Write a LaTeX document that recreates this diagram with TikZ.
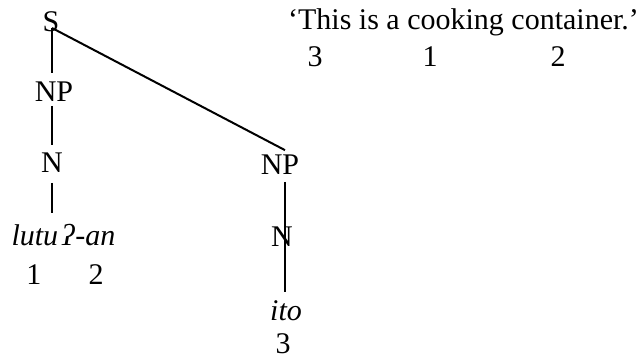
\documentclass[tikz,border=0pt]{standalone}
\usepackage{fontspec}
\setmainfont{Liberation Serif}
\begin{document}
\begin{tikzpicture}[x=1pt,y=-1pt,
  lbl/.style={inner sep=0pt,anchor=base,font=\fontsize{30}{36}\selectfont},
  br/.style={line width=2pt}]
\useasboundingbox (0,0) rectangle (643,358);
% left column
\node[lbl] (S) at (51,32) {S};
\node[lbl] (NPa) at (54,102) {NP};
\node[lbl] (Na) at (52,173) {N};
\node[lbl] (lutu) at (63.5,246) {\itshape lutu\kern4pt ʔ\kern1pt-an};
\node[lbl] (one) at (34,284) {1};
\node[lbl] (two) at (96,284) {2};
% right column
\node[lbl] (NPb) at (280,175) {NP};
\node[lbl] (Nb) at (282,247) {N};
\node[lbl] (ito) at (286,320) {\itshape ito};
\node[lbl] (three) at (283,353) {3};
% translation
\node[lbl] (gloss) at (463.5,30) {‘This is a cooking container.’};
\node[lbl] (g3) at (315,67) {3};
\node[lbl] (g1) at (430,67) {1};
\node[lbl] (g2) at (558,67) {2};
% coordinates for column lines
\coordinate (cl) at (52,0);
\coordinate (cr) at (285,0);
% branches
\draw[br] ([yshift=4pt]S.base -| cl) -- ([yshift=9pt]NPa.north -| cl);
\draw[br] ([yshift=4pt]S.base -| cl) -- ([yshift=5pt]NPb.north -| cr);
\draw[br] ([yshift=-4pt]NPa.base -| cl) -- ([yshift=8pt]Na.north -| cl);
\draw[br] ([yshift=-10pt]Na.base -| cl) -- ([yshift=33pt]lutu.base -| cl);
\draw[br] ([yshift=-7pt]NPb.base -| cr) -- (Nb.center -| cr) -- ([yshift=28pt]ito.base -| cr);
\end{tikzpicture}
\end{document}
